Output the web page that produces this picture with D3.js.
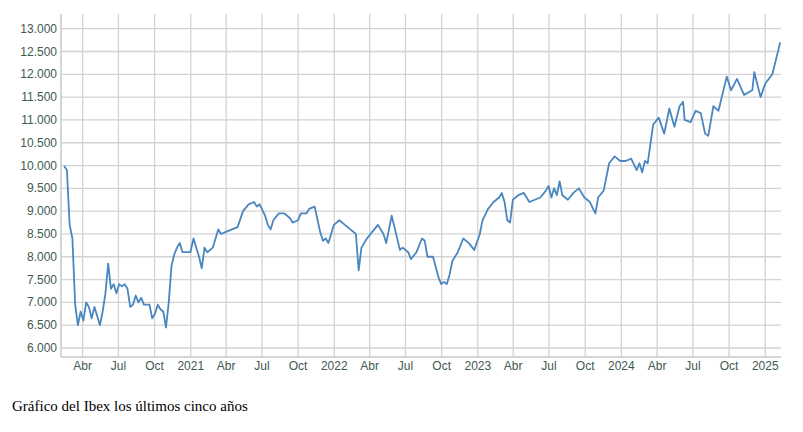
<!DOCTYPE html>
<html><head><meta charset="utf-8">
<script src="https://cdn.jsdelivr.net/npm/d3@7"></script>
<style>
body{margin:0;background:#fff}
.cap{position:absolute;left:12px;top:398px;font:15px "Liberation Serif",serif;color:#000}
</style></head>
<body>
<svg width="803" height="390"></svg>
<div class="cap">Gráfico del Ibex los últimos cinco años</div>
<script>
// weekly-ish closes
var dates = ["2020-02-14","2020-02-21","2020-02-28","2020-03-06","2020-03-13","2020-03-20","2020-03-27","2020-04-03","2020-04-10","2020-04-17","2020-04-24","2020-05-01","2020-05-08","2020-05-15","2020-05-22","2020-05-29","2020-06-05","2020-06-12","2020-06-19","2020-06-26","2020-07-03","2020-07-10","2020-07-17","2020-07-24","2020-07-31","2020-08-07","2020-08-14","2020-08-21","2020-08-28","2020-09-04","2020-09-11","2020-09-18","2020-09-25","2020-10-02","2020-10-09","2020-10-16","2020-10-23","2020-10-30","2020-11-06","2020-11-13","2020-11-20","2020-11-27","2020-12-04","2020-12-11","2020-12-18","2020-12-31",
"2021-01-08","2021-01-15","2021-01-22","2021-01-29","2021-02-05","2021-02-12","2021-02-26","2021-03-12","2021-03-19","2021-04-02","2021-04-16","2021-04-30","2021-05-14","2021-05-28","2021-06-11","2021-06-18","2021-06-25","2021-07-09","2021-07-16","2021-07-23","2021-07-30","2021-08-13","2021-08-27","2021-09-10","2021-09-17","2021-10-01","2021-10-08","2021-10-22","2021-10-29","2021-11-12","2021-11-26","2021-12-03","2021-12-10","2021-12-17","2021-12-31",
"2022-01-14","2022-01-28","2022-02-11","2022-02-25","2022-03-04","2022-03-11","2022-03-25","2022-04-08","2022-04-22","2022-05-06","2022-05-13","2022-05-27","2022-06-03","2022-06-17","2022-06-24","2022-07-08","2022-07-15","2022-07-29","2022-08-12","2022-08-19","2022-08-26","2022-09-09","2022-09-23","2022-09-30","2022-10-07","2022-10-14","2022-10-21","2022-10-28","2022-11-11","2022-11-25","2022-12-09","2022-12-23",
"2023-01-06","2023-01-13","2023-01-27","2023-02-10","2023-02-24","2023-03-03","2023-03-10","2023-03-17","2023-03-24","2023-03-31","2023-04-14","2023-04-28","2023-05-12","2023-05-26","2023-06-09","2023-06-23","2023-06-30","2023-07-07","2023-07-14","2023-07-21","2023-07-28","2023-08-04","2023-08-18","2023-09-01","2023-09-15","2023-09-29","2023-10-13","2023-10-27","2023-11-03","2023-11-17","2023-12-01","2023-12-15","2023-12-29",
"2024-01-12","2024-01-26","2024-02-09","2024-02-16","2024-02-23","2024-03-01","2024-03-08","2024-03-22","2024-04-05","2024-04-19","2024-05-02","2024-05-15","2024-05-28","2024-06-06","2024-06-10","2024-06-25","2024-07-08","2024-07-21","2024-08-01","2024-08-09","2024-08-22","2024-09-04","2024-09-25","2024-10-06","2024-10-21","2024-11-08","2024-11-29","2024-12-04","2024-12-20","2025-01-01","2025-01-19","2025-02-08"];
var closes = [9990,9900,8700,8400,6950,6500,6800,6600,7000,6900,6650,6900,6700,6500,6800,7200,7850,7300,7400,7200,7400,7350,7400,7300,6900,6950,7150,7000,7100,6950,6950,6950,6650,6750,6950,6850,6800,6450,7000,7800,8050,8200,8300,8100,8100,8100,
8400,8200,8000,7750,8200,8100,8200,8600,8500,8550,8600,8650,9000,9150,9200,9100,9150,8900,8700,8600,8800,8950,8950,8850,8750,8800,8950,8950,9050,9100,8550,8350,8400,8300,8700,
8800,8700,8600,8500,7700,8200,8400,8550,8700,8500,8300,8900,8650,8150,8200,8100,7950,8100,8400,8350,8000,8000,7550,7400,7450,7400,7600,7900,8100,8400,8300,8150,
8500,8800,9050,9200,9300,9400,9200,8800,8750,9250,9350,9400,9200,9250,9300,9450,9550,9300,9500,9350,9650,9350,9250,9400,9500,9300,9200,8950,9300,9450,10050,10200,10100,
10100,10150,9900,10050,9850,10100,10050,10900,11050,10700,11250,10850,11300,11400,11000,10950,11200,11150,10700,10650,11300,11200,11950,11650,11900,11550,11650,12050,11500,11800,12000,12700];
var yTicks = [6000,6500,7000,7500,8000,8500,9000,9500,10000,10500,11000,11500,12000,12500,13000];
var monthNames = ["Ene","Feb","Mar","Abr","May","Jun","Jul","Ago","Sep","Oct","Nov","Dic"];

var svg = d3.select("svg");
var parse = d3.timeParse("%Y-%m-%d");
var data = dates.map(function(d,i){ return {d:parse(d), v:closes[i]}; });

var x = d3.scaleTime().domain([parse("2020-02-06"), parse("2025-02-10")]).range([61,781]);
var y = d3.scaleLinear().domain([6000,13000]).range([348,28.7]);

var xTicks = d3.timeMonth.range(parse("2020-04-01"), parse("2025-02-01"), 3);
var g = svg.append("g");
g.selectAll(".vg").data(xTicks).enter().append("line")
	.attr("x1",d=>x(d)).attr("x2",d=>x(d)).attr("y1",14).attr("y2",357)
	.attr("stroke","#d3d3d3").attr("stroke-width",1.3);
g.selectAll(".hg").data(yTicks).enter().append("line")
	.attr("x1",61).attr("x2",781).attr("y1",d=>y(d)).attr("y2",d=>y(d))
	.attr("stroke","#d3d3d3").attr("stroke-width",1.3);
g.append("line").attr("x1",61).attr("x2",61).attr("y1",14).attr("y2",357).attr("stroke","#c8c8c8").attr("stroke-width",1.5);
g.append("line").attr("x1",61).attr("x2",781).attr("y1",357).attr("y2",357).attr("stroke","#c8c8c8").attr("stroke-width",1.5);

var fmt = d3.formatLocale({decimal:",",thousands:".",grouping:[3],currency:["","€"]}).format(",.3~f");
g.selectAll(".yl").data(yTicks).enter().append("text")
	.attr("x",57).attr("y",d=>y(d)+4).attr("text-anchor","end")
	.attr("font-family","Liberation Sans, Arial, sans-serif").attr("font-size",12).attr("fill","#3d5a50")
	.text(d=>d3.format(",")(d).replace(",","."));
g.selectAll(".xl").data(xTicks).enter().append("text")
	.attr("x",d=>x(d)).attr("y",370).attr("text-anchor","middle")
	.attr("font-family","Liberation Sans, Arial, sans-serif").attr("font-size",12).attr("fill","#3d5a50")
	.text(d=>d.getMonth()==0 ? d.getFullYear() : monthNames[d.getMonth()]);

var line = d3.line().x(d=>x(d.d)).y(d=>y(d.v));
svg.append("path").datum(data).attr("d",line)
	.attr("fill","none").attr("stroke","#4a86bf").attr("stroke-width",1.8).attr("stroke-linejoin","round");
</script>
</body></html>
